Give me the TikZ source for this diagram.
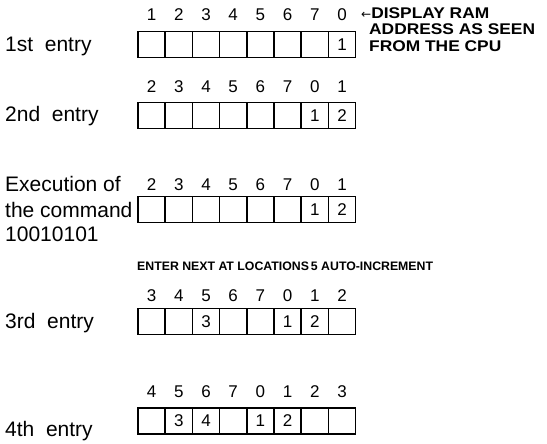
\documentclass[tikz,border=0pt]{standalone}
\usepackage{fontspec}
\setmainfont{Liberation Sans}
\newfontfamily\dv{DejaVu Sans}
\newfontfamily\widebold[FakeStretch=1.12]{Liberation Sans Bold}
\begin{document}
\begin{tikzpicture}[x=1pt,y=-1pt,
  cell/.style={draw,line width=1.5pt,minimum width=27.2pt,minimum height=26pt,inner sep=0pt,font=\fontsize{17}{17}\selectfont},
  num/.style={inner sep=0pt,font=\fontsize{17}{17}\selectfont},
  lbl/.style={anchor=west,inner sep=0pt,font=\fontsize{21}{21}\selectfont},
  note/.style={anchor=west,inner sep=0pt,font=\widebold\fontsize{15.5}{15.5}\selectfont}]
\useasboundingbox (0,0) rectangle (547,444);
% row 1
\foreach \n/\c [count=\i] in {1/,2/,3/,4/,5/,6/,7/,0/1}{
  \node[cell] (a\i) at ({124.4+27.2*\i},44.5) {\c};
  \node[num] (na\i) at ({124.4+27.2*\i},15) {\n};}
\node[lbl] (la) at (5,46) {1st\ \ entry};
% row 2
\foreach \n/\c [count=\i] in {2/,3/,4/,5/,6/,7/,0/1,1/2}{
  \node[cell] (b\i) at ({124.4+27.2*\i},115.5) {\c};
  \node[num] (nb\i) at ({124.4+27.2*\i},87) {\n};}
\node[lbl] (lb) at (5,116) {2nd\ \ entry};
% row 3
\foreach \n/\c [count=\i] in {2/,3/,4/,5/,6/,7/,0/1,1/2}{
  \node[cell] (c\i) at ({124.4+27.2*\i},209.5) {\c};
  \node[num] (nc\i) at ({124.4+27.2*\i},185) {\n};}
\node[lbl] (lc1) at (5,184) {Execution of};
\node[lbl] (lc2) at (5,210) {the command};
\node[lbl] (lc3) at (5,234) {10010101};
\node[anchor=west,inner sep=0pt,font=\bfseries\fontsize{12.3}{12.3}\selectfont] (enter) at (137,266) {ENTER NEXT AT LOCATIONS\,5 AUTO-INCREMENT};
% row 4
\foreach \n/\c [count=\i] in {3/,4/,5/3,6/,7/,0/1,1/2,2/}{
  \node[cell] (d\i) at ({124.4+27.2*\i},321.5) {\c};
  \node[num] (nd\i) at ({124.4+27.2*\i},296) {\n};}
\node[lbl] (ld) at (5,323) {3rd\ \ entry};
% row 5
\foreach \n/\c [count=\i] in {4/,5/3,6/4,7/,0/1,1/2,2/,3/}{
  \node[cell] (e\i) at ({124.4+27.2*\i},421) {\c};
  \node[num] (ne\i) at ({124.4+27.2*\i},392) {\n};}
\node[lbl] (le) at (5,431) {4th\ \ entry};
% note
\node[note] (n1) at (361,13) {{\dv\fontsize{12}{12}\selectfont ←}DISPLAY RAM};
\node[note] (n2) at (369,29.5) {ADDRESS AS SEEN};
\node[note] (n3) at (369,46) {FROM THE CPU};
\end{tikzpicture}
\end{document}
